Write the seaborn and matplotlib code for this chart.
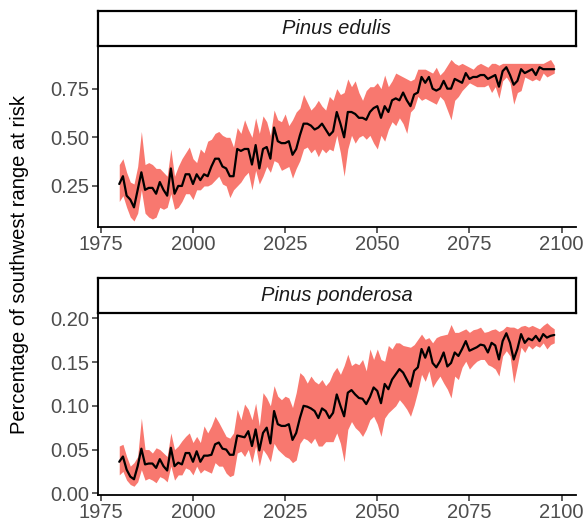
import pandas as pd
import matplotlib
matplotlib.use("Agg")
import matplotlib.pyplot as plt
import seaborn as sns

# Estilo geral
sns.set_theme(style="ticks")
plt.rcParams['font.family'] = ['Liberation Sans', 'DejaVu Sans']

years = list(range(1980, 2099))

# Pinus edulis
edulis_mean = [
    0.26, 0.30, 0.20, 0.18, 0.14, 0.23, 0.32, 0.23, 0.24, 0.24,
    0.21, 0.27, 0.23, 0.20, 0.34, 0.21, 0.25, 0.25, 0.31, 0.31,
    0.26, 0.31, 0.28, 0.31, 0.30, 0.35, 0.39, 0.39, 0.35, 0.34,
    0.30, 0.30, 0.44, 0.43, 0.44, 0.44, 0.36, 0.46, 0.34, 0.44,
    0.45, 0.39, 0.55, 0.48, 0.47, 0.47, 0.48, 0.41, 0.44, 0.51,
    0.57, 0.57, 0.56, 0.54, 0.55, 0.57, 0.54, 0.51, 0.53, 0.63,
    0.57, 0.50, 0.63, 0.63, 0.62, 0.60, 0.60, 0.59, 0.63, 0.65,
    0.66, 0.60, 0.66, 0.63, 0.69, 0.70, 0.69, 0.73, 0.69, 0.66,
    0.72, 0.73, 0.81, 0.78, 0.81, 0.75, 0.74, 0.75, 0.79, 0.75,
    0.75, 0.80, 0.79, 0.78, 0.83, 0.80, 0.81, 0.81, 0.82, 0.82,
    0.80, 0.81, 0.82, 0.76, 0.84, 0.86, 0.82, 0.77, 0.79, 0.85,
    0.83, 0.84, 0.85, 0.82, 0.86, 0.85, 0.85, 0.85, 0.85,
]
edulis_lo = [
    0.17, 0.20, 0.14, 0.09, 0.07, 0.11, 0.23, 0.11, 0.09, 0.08,
    0.09, 0.14, 0.13, 0.14, 0.21, 0.13, 0.14, 0.17, 0.21, 0.21,
    0.18, 0.23, 0.23, 0.25, 0.25, 0.26, 0.28, 0.30, 0.26, 0.25,
    0.19, 0.23, 0.25, 0.27, 0.30, 0.32, 0.23, 0.33, 0.26, 0.30,
    0.35, 0.32, 0.38, 0.37, 0.33, 0.34, 0.35, 0.29, 0.34, 0.38,
    0.44, 0.45, 0.42, 0.44, 0.40, 0.44, 0.42, 0.44, 0.43, 0.51,
    0.42, 0.30, 0.44, 0.51, 0.47, 0.50, 0.51, 0.49, 0.51, 0.47,
    0.44, 0.51, 0.48, 0.54, 0.58, 0.56, 0.60, 0.57, 0.52, 0.63,
    0.65, 0.71, 0.69, 0.70, 0.69, 0.68, 0.67, 0.71, 0.69, 0.64,
    0.59, 0.69, 0.71, 0.74, 0.76, 0.78, 0.77, 0.76, 0.76, 0.76,
    0.77, 0.73, 0.76, 0.70, 0.79, 0.81, 0.78, 0.67, 0.73, 0.74,
    0.81, 0.80, 0.79, 0.80, 0.79, 0.83, 0.81, 0.82, 0.83,
]
edulis_hi = [
    0.36, 0.39, 0.32, 0.27, 0.26, 0.35, 0.53, 0.36, 0.37, 0.36,
    0.34, 0.34, 0.32, 0.30, 0.44, 0.30, 0.35, 0.39, 0.42, 0.45,
    0.39, 0.37, 0.44, 0.42, 0.48, 0.49, 0.52, 0.53, 0.51, 0.50,
    0.50, 0.45, 0.55, 0.52, 0.59, 0.54, 0.50, 0.60, 0.52, 0.61,
    0.58, 0.51, 0.64, 0.59, 0.58, 0.62, 0.56, 0.59, 0.63, 0.65,
    0.72, 0.68, 0.64, 0.66, 0.69, 0.66, 0.64, 0.71, 0.69, 0.75,
    0.72, 0.73, 0.80, 0.76, 0.79, 0.73, 0.69, 0.74, 0.76, 0.76,
    0.78, 0.75, 0.82, 0.76, 0.79, 0.83, 0.82, 0.81, 0.80, 0.79,
    0.80, 0.85, 0.85, 0.85, 0.84, 0.83, 0.86, 0.82, 0.84, 0.87,
    0.90, 0.88, 0.87, 0.88, 0.87, 0.86, 0.85, 0.87, 0.88, 0.87,
    0.86, 0.88, 0.88, 0.87, 0.88, 0.88, 0.88, 0.88, 0.88, 0.88,
    0.88, 0.88, 0.88, 0.88, 0.88, 0.88, 0.89, 0.90, 0.87,
]

# Pinus ponderosa
ponderosa_mean = [
    0.036, 0.042, 0.027, 0.019, 0.016, 0.031, 0.051, 0.033, 0.034, 0.034,
    0.029, 0.039, 0.031, 0.026, 0.052, 0.031, 0.035, 0.033, 0.046, 0.046,
    0.036, 0.048, 0.036, 0.043, 0.043, 0.044, 0.056, 0.058, 0.051, 0.050,
    0.044, 0.044, 0.066, 0.065, 0.064, 0.071, 0.054, 0.073, 0.049, 0.069,
    0.075, 0.057, 0.094, 0.079, 0.077, 0.077, 0.079, 0.061, 0.069, 0.086,
    0.100, 0.099, 0.097, 0.094, 0.086, 0.097, 0.094, 0.086, 0.092, 0.113,
    0.100, 0.088, 0.115, 0.118, 0.113, 0.109, 0.108, 0.102, 0.110, 0.121,
    0.117, 0.103, 0.125, 0.119, 0.130, 0.136, 0.142, 0.138, 0.130, 0.122,
    0.140, 0.144, 0.165, 0.155, 0.167, 0.149, 0.144, 0.151, 0.161, 0.145,
    0.149, 0.161, 0.157, 0.165, 0.174, 0.163, 0.165, 0.167, 0.170, 0.169,
    0.161, 0.172, 0.169, 0.153, 0.174, 0.183, 0.172, 0.153, 0.165, 0.182,
    0.172, 0.177, 0.175, 0.180, 0.174, 0.182, 0.178, 0.180, 0.181,
]
ponderosa_lo = [
    0.021, 0.025, 0.015, 0.010, 0.008, 0.013, 0.027, 0.015, 0.017, 0.015,
    0.012, 0.019, 0.017, 0.013, 0.031, 0.015, 0.021, 0.021, 0.029, 0.027,
    0.021, 0.031, 0.023, 0.027, 0.025, 0.023, 0.035, 0.031, 0.031, 0.023,
    0.019, 0.021, 0.046, 0.048, 0.042, 0.050, 0.035, 0.054, 0.031, 0.050,
    0.044, 0.036, 0.057, 0.050, 0.046, 0.042, 0.040, 0.035, 0.038, 0.057,
    0.063, 0.061, 0.057, 0.063, 0.054, 0.054, 0.059, 0.059, 0.059, 0.069,
    0.057, 0.036, 0.073, 0.082, 0.075, 0.071, 0.065, 0.073, 0.084, 0.088,
    0.079, 0.065, 0.086, 0.092, 0.096, 0.100, 0.107, 0.102, 0.096, 0.088,
    0.101, 0.117, 0.136, 0.128, 0.140, 0.121, 0.128, 0.134, 0.126, 0.119,
    0.109, 0.134, 0.130, 0.144, 0.151, 0.142, 0.147, 0.151, 0.153, 0.153,
    0.147, 0.145, 0.142, 0.134, 0.157, 0.163, 0.157, 0.126, 0.146, 0.167,
    0.161, 0.169, 0.165, 0.169, 0.167, 0.172, 0.165, 0.170, 0.172,
]
ponderosa_hi = [
    0.054, 0.056, 0.042, 0.031, 0.035, 0.042, 0.086, 0.050, 0.050, 0.046,
    0.052, 0.050, 0.046, 0.042, 0.069, 0.050, 0.054, 0.060, 0.065, 0.069,
    0.058, 0.065, 0.058, 0.077, 0.069, 0.077, 0.088, 0.081, 0.073, 0.065,
    0.063, 0.069, 0.096, 0.084, 0.102, 0.096, 0.084, 0.103, 0.077, 0.115,
    0.109, 0.100, 0.123, 0.111, 0.107, 0.111, 0.109, 0.098, 0.115, 0.138,
    0.134, 0.126, 0.134, 0.128, 0.125, 0.130, 0.123, 0.128, 0.138, 0.144,
    0.136, 0.146, 0.159, 0.146, 0.149, 0.147, 0.153, 0.140, 0.165, 0.153,
    0.165, 0.153, 0.151, 0.169, 0.165, 0.172, 0.172, 0.169, 0.168, 0.167,
    0.170, 0.176, 0.182, 0.176, 0.178, 0.172, 0.178, 0.180, 0.181, 0.182,
    0.193, 0.184, 0.184, 0.186, 0.188, 0.184, 0.187, 0.188, 0.190, 0.184,
    0.185, 0.187, 0.188, 0.185, 0.187, 0.191, 0.190, 0.190, 0.188, 0.191,
    0.192, 0.190, 0.192, 0.190, 0.188, 0.192, 0.195, 0.191, 0.188,
]

species = ["Pinus edulis", "Pinus ponderosa"]
x_ticks = [1975, 2000, 2025, 2050, 2075, 2100]
y_ticks = [[0.25, 0.50, 0.75], [0.00, 0.05, 0.10, 0.15, 0.20]]
y_limits = [(0.039, 0.964), (-0.002, 0.205)]

df = pd.concat([
    pd.DataFrame({"year": years, "mean": edulis_mean, "lo": edulis_lo,
                  "hi": edulis_hi, "species": species[0]}),
    pd.DataFrame({"year": years, "mean": ponderosa_mean, "lo": ponderosa_lo,
                  "hi": ponderosa_hi, "species": species[1]}),
])

W, H = 587, 529
fig = plt.figure(figsize=(W / 100, H / 100), dpi=100)

left, right = 97.5, 576
panels = [(47, 227), (314, 495)]   # topo e base de cada painel (px)
strip_h = 35
ribbon = "#F8786F"
grey = "#4D4D4D"

for i, sp in enumerate(species):
    top, bottom = panels[i]
    ax = fig.add_axes([left / W, 1 - bottom / H, (right - left) / W, (bottom - top) / H])
    sub = df[df["species"] == sp]
    ax.fill_between(sub["year"], sub["lo"], sub["hi"], color=ribbon, linewidth=0)
    sns.lineplot(data=sub, x="year", y="mean", color="black", linewidth=1.6, ax=ax)
    ax.set_xlim(1974.1, 2103.9)
    ax.set_ylim(*y_limits[i])
    ax.set_xticks(x_ticks)
    ax.set_yticks(y_ticks[i])
    ax.set_yticklabels([f"{v:.2f}" for v in y_ticks[i]])
    ax.set_xlabel("")
    ax.set_ylabel("")
    sns.despine(ax=ax)
    for s in ["left", "bottom"]:
        ax.spines[s].set_color("black")
        ax.spines[s].set_linewidth(1.3)
    ax.tick_params(axis="both", length=4, width=1.1, color="#333333",
                   labelcolor=grey, labelsize=14.5, pad=2)

    sax = fig.add_axes([left / W, 1 - (top - 1) / H, (right - left) / W, strip_h / H])
    sax.set_xticks([])
    sax.set_yticks([])
    sax.set_facecolor("white")
    for s in sax.spines.values():
        s.set_color("black")
        s.set_linewidth(1.6)
    sax.text(0.5, 0.5, sp, style="italic", ha="center", va="center",
             fontsize=14.5, color="#1A1A1A", transform=sax.transAxes)

fig.text(20 / W, 0.5, "Percentage of southwest range at risk", rotation=90,
         ha="center", va="center", fontsize=14.5, color="black")

fig.savefig("out.png", dpi=100)
